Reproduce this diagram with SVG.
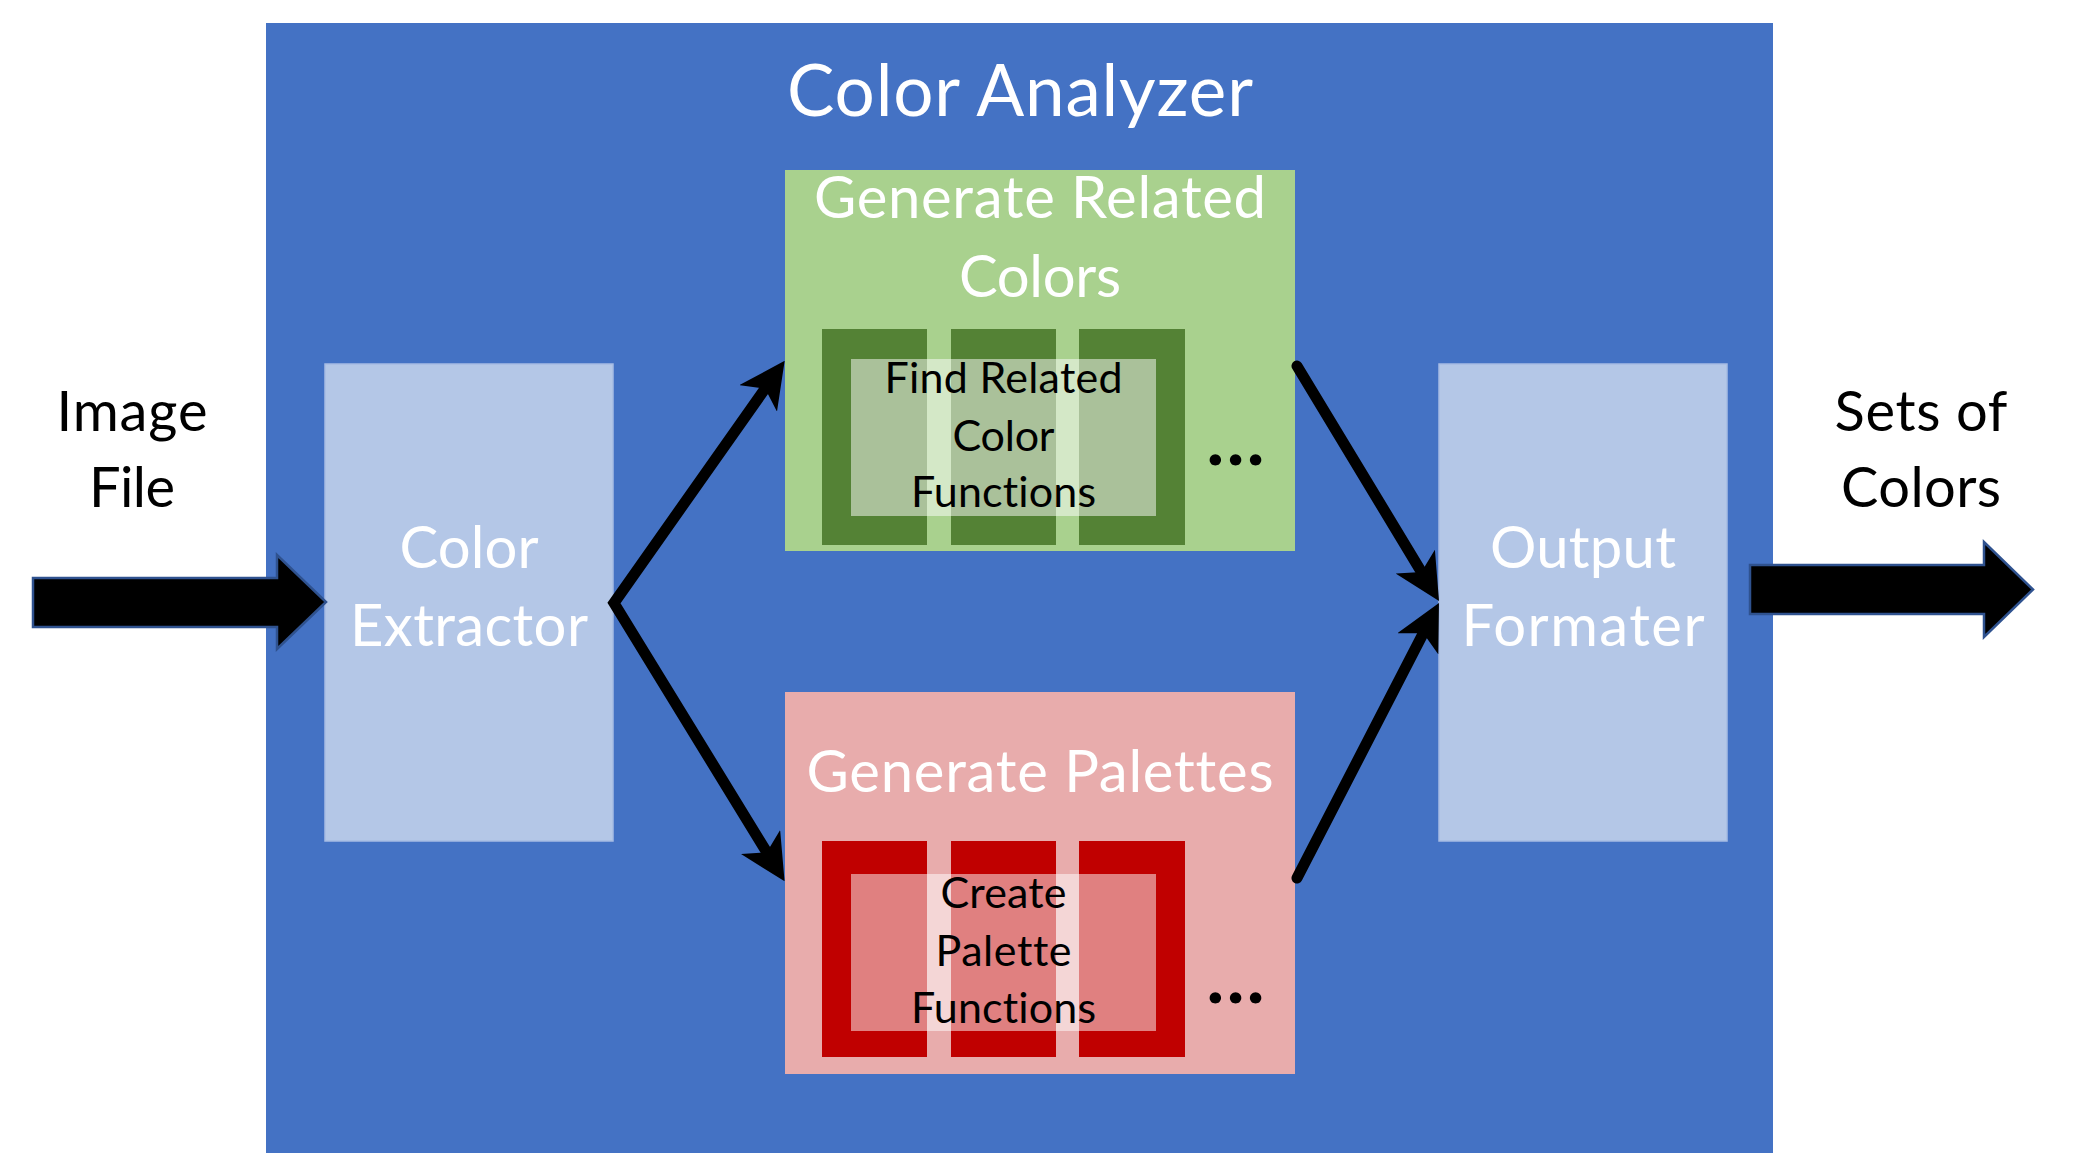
<svg xmlns="http://www.w3.org/2000/svg" width="2075" height="1174" viewBox="0 0 2075 1174">
<style>
  text { font-family: Lato, "Open Sans", "Liberation Sans", sans-serif; text-anchor: middle; font-variant-ligatures: none; font-feature-settings: "liga" 0, "clig" 0; }
  .w { fill: #ffffff; }
  .k { fill: #000000; }
  .lb { fill: #B4C7E7; stroke: #A6BCE3; stroke-width: 1.5; }
  .ov { fill: #ffffff; fill-opacity: 0.5; }
  .gd { fill: #548235; }
  .rd { fill: #C00000; }
  .big { font-size: 58px; }
  .sm { font-size: 43px; }
  .blk { fill: #000000; stroke: #2F528F; stroke-width: 2.5; stroke-linejoin: miter; }
  .con { fill: none; stroke: #000000; stroke-width: 11; }
  .dots { font-size: 70px; font-weight: 900; text-anchor: start; }
</style>
<defs>
  <marker id="ah" markerUnits="userSpaceOnUse" viewBox="0 0 46 46" refX="16" refY="23" markerWidth="46" markerHeight="46" orient="auto-start-reverse">
    <path d="M0,0 L46,23 L0,46 L12,23 Z" fill="#000000"/>
  </marker>
</defs>

<g id="color-analyzer">
  <rect x="266" y="23" width="1507" height="1130" fill="#4472C4"/>
  <text class="w" x="1020" y="116" font-size="71" textLength="466">Color Analyzer</text>
</g>

<g id="color-extractor">
  <rect class="lb" x="325" y="364" width="288" height="477"/>
  <text class="w big" x="469" y="568" textLength="139">Color</text>
  <text class="w big" x="469" y="646" textLength="238">Extractor</text>
</g>

<g id="generate-related-colors">
  <rect x="785" y="170" width="510" height="381" fill="#A9D18E"/>
  <text class="w big" x="1040" y="218" textLength="452">Generate Related</text>
  <text class="w big" x="1040" y="297" textLength="162">Colors</text>
  <g id="find-related-color-functions">
    <rect class="gd" x="822" y="329" width="105" height="216"/>
    <rect class="gd" x="951" y="329" width="105" height="216"/>
    <rect class="gd" x="1079" y="329" width="106" height="216"/>
    <rect class="ov" x="851" y="359" width="305" height="157"/>
    <text class="k sm" x="1003.5" y="393" textLength="238">Find Related</text>
    <text class="k sm" x="1003.5" y="451" textLength="102">Color</text>
    <text class="k sm" x="1003.5" y="507" textLength="185">Functions</text>
  </g>
  <text class="k dots" x="1207" y="465" textLength="57">...</text>
</g>

<g id="generate-palettes">
  <rect x="785" y="692" width="510" height="382" fill="#E8ACAC"/>
  <text class="w big" x="1040" y="792" textLength="467">Generate Palettes</text>
  <g id="create-palette-functions">
    <rect class="rd" x="822" y="841" width="105" height="216"/>
    <rect class="rd" x="951" y="841" width="105" height="216"/>
    <rect class="rd" x="1079" y="841" width="106" height="216"/>
    <rect class="ov" x="851" y="874" width="305" height="157"/>
    <text class="k sm" x="1003.5" y="908" textLength="126">Create</text>
    <text class="k sm" x="1003.5" y="966" textLength="136">Palette</text>
    <text class="k sm" x="1003.5" y="1023" textLength="185">Functions</text>
  </g>
  <text class="k dots" x="1207" y="1003" textLength="57">...</text>
</g>

<g id="output-formater">
  <rect class="lb" x="1439" y="364" width="288" height="477"/>
  <text class="w big" x="1583" y="568" textLength="186">Output</text>
  <text class="w big" x="1583" y="646" textLength="243">Formater</text>
</g>

<g id="image-file">
  <text class="k" x="132" y="431" font-size="56" textLength="151">Image</text>
  <text class="k" x="132" y="507" font-size="56" textLength="86">File</text>
</g>

<g id="sets-of-colors">
  <text class="k" x="1921" y="431" font-size="56" textLength="173">Sets of</text>
  <text class="k" x="1921" y="507" font-size="56" textLength="160">Colors</text>
</g>

<g id="connectors">
  <polygon class="blk" points="33,578 277,578 277,555 326,602 277,649 277,627 33,627"/>
  <polygon class="blk" points="1750,565 1984,565 1984,542 2033,589.5 1984,637 1984,614 1750,614"/>
  <path class="con" d="M767.4,385.3 L614,603 L768.9,855.7" stroke-linejoin="miter" marker-start="url(#ah)" marker-end="url(#ah)"/>
  <path class="con" d="M1297,366 L1423.5,575.3" stroke-linecap="round" marker-end="url(#ah)"/>
  <path class="con" d="M1297,878 L1425.2,629.6" stroke-linecap="round" marker-end="url(#ah)"/>
</g>
</svg>
